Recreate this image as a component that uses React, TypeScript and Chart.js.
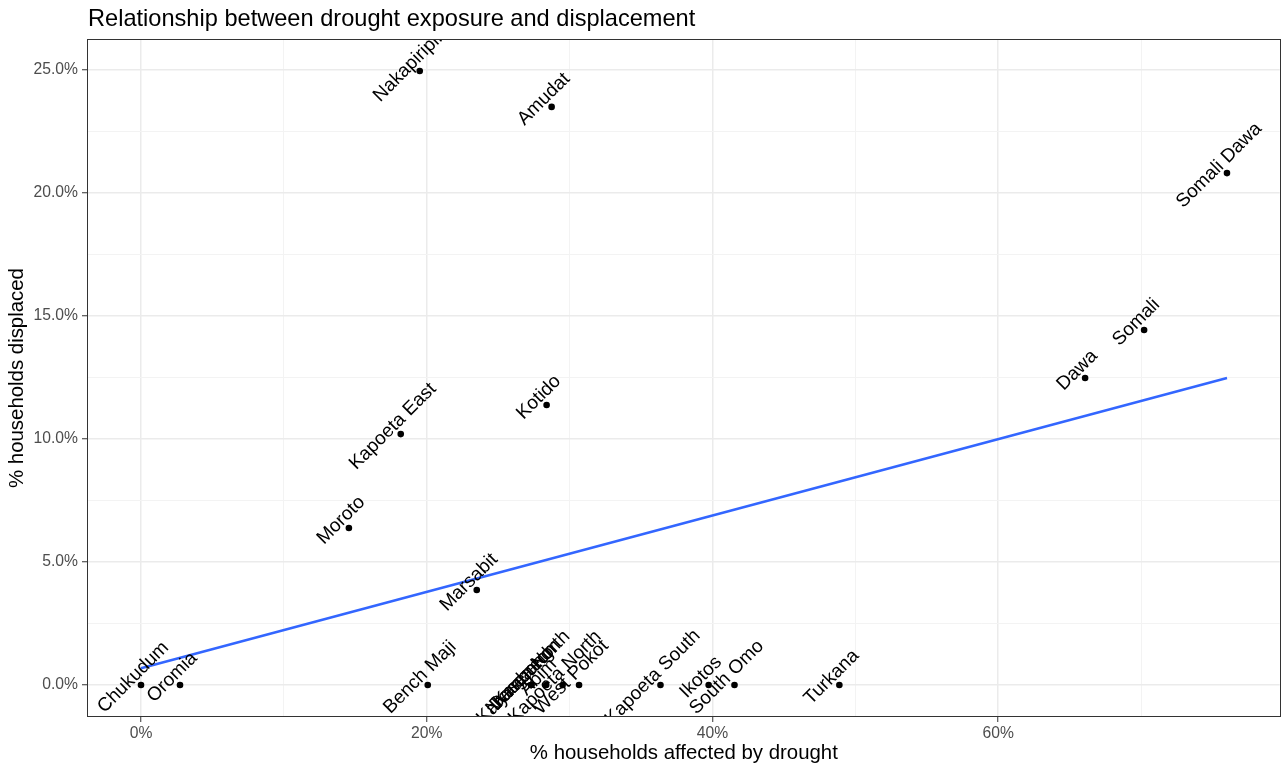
import React, { useEffect, useRef } from "react";
import { Chart, registerables } from "chart.js";

Chart.register(...registerables);

// ---- Data ----
const names = [
  "Chukudum", "Oromia", "Bench Maji",
  "Kaabong", "Dasenech", "Nyangatom", "Karenga North", "Abim", "Kapoeta North", "West Pokot",
  "Kapoeta South", "Ikotos", "South Omo", "Turkana",
  "Marsabit", "Moroto", "Kapoeta East", "Kotido",
  "Nakapiripirit", "Amudat", "Dawa", "Somali", "Somali Dawa",
];
const droughtPct = [
  0.0, 2.73, 20.07,
  27.31, 27.31, 27.31, 27.31, 28.36, 29.51, 30.66,
  36.36, 39.73, 41.54, 48.88,
  23.5, 14.55, 18.18, 28.39,
  19.51, 28.74, 66.08, 70.21, 76.01,
];
const displacedPct = [
  0, 0, 0,
  0, 0, 0, 0, 0, 0, 0,
  0, 0, 0, 0,
  3.86, 6.38, 10.2, 11.38,
  24.96, 23.5, 12.48, 14.43, 20.81,
];
// fitted linear trend (endpoints of the drawn smooth)
const trendX = [0, 76.01];
const trendY = [0.68, 12.48];

const xTicks = [0, 10, 20, 30, 40, 50, 60, 70];
const xMajor = [0, 20, 40, 60];
const yTicks = [0, 2.5, 5, 7.5, 10, 12.5, 15, 17.5, 20, 22.5, 25];
const yMajor = [0, 5, 10, 15, 20, 25];

const titleText = "Relationship between drought exposure and displacement";
const xTitle = "% households affected by drought";
const yTitle = "% households displaced";

const FONT = "'Liberation Sans', Arial, Helvetica, sans-serif";
const LABEL_SIZE = 19;
const LABEL_OFFSET = 11;

const overlayPlugin = {
  id: "overlay",
  afterDatasetsDraw(chart: any) {
    const { ctx, chartArea, scales } = chart;
    const xs = scales.x;
    const ys = scales.y;
    ctx.save();
    ctx.beginPath();
    ctx.rect(chartArea.left, chartArea.top, chartArea.right - chartArea.left, chartArea.bottom - chartArea.top);
    ctx.clip();
    ctx.font = `${LABEL_SIZE}px ${FONT}`;
    ctx.fillStyle = "#000000";
    ctx.textAlign = "center";
    ctx.textBaseline = "middle";
    names.forEach((n, i) => {
      const px = xs.getPixelForValue(droughtPct[i]);
      const py = ys.getPixelForValue(displacedPct[i]);
      ctx.save();
      ctx.translate(px, py);
      ctx.rotate(-Math.PI / 4);
      ctx.fillText(n, 0, -LABEL_OFFSET);
      ctx.restore();
    });
    ctx.restore();

    // panel border
    ctx.save();
    ctx.strokeStyle = "#333333";
    ctx.lineWidth = 1;
    const l = Math.round(chartArea.left) - 0.5;
    const t = Math.round(chartArea.top) - 0.5;
    const r = Math.round(chartArea.right) + 0.5;
    const b = Math.round(chartArea.bottom) + 0.5;
    ctx.strokeRect(l, t, r - l, b - t);
    ctx.restore();
  },
  afterDraw(chart: any) {
    const { ctx, chartArea } = chart;
    ctx.save();
    ctx.font = `23.6px ${FONT}`;
    ctx.fillStyle = "#000000";
    ctx.textAlign = "left";
    ctx.textBaseline = "alphabetic";
    ctx.fillText(titleText, chartArea.left, 26);
    ctx.restore();
  },
};

export default function App() {
  const canvasRef = useRef<HTMLCanvasElement | null>(null);

  useEffect(() => {
    if (!canvasRef.current) return;
    const points = droughtPct.map((x, i) => ({ x, y: displacedPct[i] }));
    const trend = trendX.map((x, i) => ({ x, y: trendY[i] }));

    const chart = new Chart(canvasRef.current, {
      type: "scatter",
      data: {
        datasets: [
          {
            label: "districts",
            data: points,
            pointRadius: 3.3,
            pointHoverRadius: 3.3,
            pointBackgroundColor: "#000000",
            pointBorderWidth: 0,
            showLine: false,
          },
          {
            label: "trend",
            data: trend,
            showLine: true,
            borderColor: "#3366FF",
            borderWidth: 2.5,
            pointRadius: 0,
            fill: false,
          },
        ],
      },
      options: {
        animation: false,
        responsive: true,
        maintainAspectRatio: false,
        layout: { padding: { top: 40, right: 2, left: 0, bottom: 0 } },
        plugins: {
          legend: { display: false },
          tooltip: { enabled: false },
          title: { display: false },
        },
        scales: {
          x: {
            type: "linear",
            min: -3.71,
            max: 79.7,
            afterBuildTicks: (s: any) => {
              s.ticks = xTicks.map((v) => ({ value: v }));
            },
            afterFit: (s: any) => {
              s.height = 51;
            },
            border: { display: false },
            grid: {
              color: (c: any) => (xMajor.includes(c.tick?.value) ? "#EBEBEB" : "#F3F3F3"),
              lineWidth: (c: any) => (xMajor.includes(c.tick?.value) ? 1.5 : 1),
              tickLength: 6,
              tickColor: (c: any) => (xMajor.includes(c.tick?.value) ? "#333333" : "rgba(0,0,0,0)"),
              tickWidth: 1,
            },
            ticks: {
              autoSkip: false,
              maxRotation: 0,
              padding: 2,
              color: "#4D4D4D",
              font: { family: FONT, size: 15.7 },
              callback: (v: any) => (xMajor.includes(Number(v)) ? `${v}%` : ""),
            },
            title: {
              display: true,
              text: xTitle,
              color: "#000000",
              font: { family: FONT, size: 20.4 },
              padding: { top: 0, bottom: 1 },
            },
          },
          y: {
            type: "linear",
            min: -1.26,
            max: 26.22,
            afterBuildTicks: (s: any) => {
              s.ticks = yTicks.map((v) => ({ value: v }));
            },
            afterFit: (s: any) => {
              s.width = 88;
            },
            border: { display: false },
            grid: {
              color: (c: any) => (yMajor.includes(c.tick?.value) ? "#EBEBEB" : "#F3F3F3"),
              lineWidth: (c: any) => (yMajor.includes(c.tick?.value) ? 1.5 : 1),
              tickLength: 6,
              tickColor: (c: any) => (yMajor.includes(c.tick?.value) ? "#333333" : "rgba(0,0,0,0)"),
              tickWidth: 1,
            },
            ticks: {
              autoSkip: false,
              padding: 4,
              color: "#4D4D4D",
              font: { family: FONT, size: 15.7 },
              callback: (v: any) => (yMajor.includes(Number(v)) ? `${Number(v).toFixed(1)}%` : ""),
            },
            title: {
              display: true,
              text: yTitle,
              color: "#000000",
              font: { family: FONT, size: 20.4 },
              padding: { top: 5, bottom: 0 },
            },
          },
        },
      },
      plugins: [overlayPlugin],
    });

    return () => {
      chart.destroy();
    };
  }, []);

  return (
    <div style={{ position: "absolute", left: 0, top: 0, width: 1283, height: 767, background: "#ffffff" }}>
      <canvas ref={canvasRef} />
    </div>
  );
}
